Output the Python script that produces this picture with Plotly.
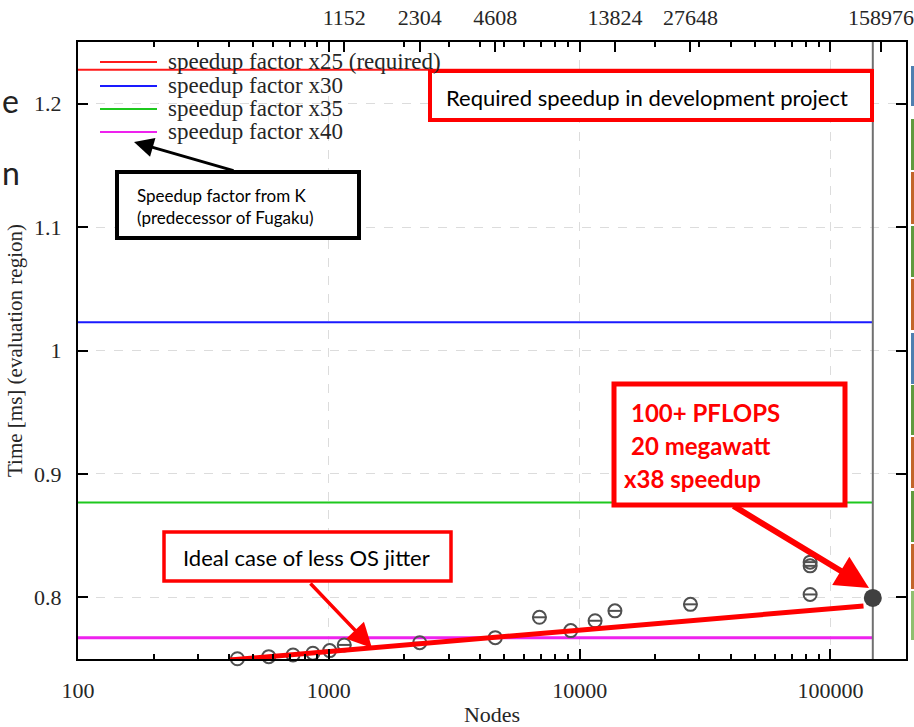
import math
import plotly.graph_objects as go

# ---------------- data ----------------
nodes = [432, 576, 720, 864, 1008, 1152, 2304, 4608, 6912, 9216, 11520, 13824, 27648, 82944, 82944, 82944]
times = [0.7502, 0.7519, 0.7533, 0.7547, 0.7568, 0.7614, 0.7632, 0.7673, 0.7838, 0.7730, 0.7810, 0.7890,
         0.7943, 0.8023, 0.8255, 0.8285]
full_nodes = [147456]
full_times = [0.7995]

speedup_labels = ["speedup factor x25 (required)", "speedup factor x30", "speedup factor x35", "speedup factor x40"]
speedup_times = [1.2275, 1.0229, 0.8768, 0.7672]
speedup_colors = ["#ff1a1a", "#1a1aff", "#1ec81e", "#ee22ee"]
speedup_widths = [2, 2, 2, 3]
speedup_x = [100, 147456]

ideal_nodes = [403, 135400]
ideal_times = [0.7492, 0.7930]

bottom_ticks = [100, 1000, 10000, 100000]
bottom_labels = ["100", "1000", "10000", "100000"]
minor_ticks = [m * 10 ** e for e in range(2, 6) for m in range(2, 10)]
top_ticks = [1152, 2304, 4608, 13824, 27648, 158976]
top_labels = ["1152", "2304", "4608", "13824", "27648", "158976"]
y_ticks = [0.8, 0.9, 1.0, 1.1, 1.2]
y_labels = ["0.8", "0.9", "1", "1.1", "1.2"]
x_range = [100, 200000]
y_range = [0.75, 1.25]

# ---------------- layout helpers (pixel -> paper) ----------------
L, R, T, B = 78, 906, 42, 659
W, H = 914, 727


def PX(x):
    return (x - L) / (R - L)


def PY(y):
    return (B - y) / (B - T)


SERIF = "Liberation Serif"
SANS = "Lato"
TXT = "#262626"

fig = go.Figure()

for lab, t, c, w in zip(speedup_labels, speedup_times, speedup_colors, speedup_widths):
    fig.add_trace(go.Scatter(x=speedup_x, y=[t, t], mode="lines", line=dict(color=c, width=w),
                             name=lab, showlegend=False, hoverinfo="skip"))

# gray vertical line at full-system run
fig.add_trace(go.Scatter(x=[full_nodes[0], full_nodes[0]], y=y_range, mode="lines",
                         line=dict(color="#707070", width=2), showlegend=False, hoverinfo="skip"))

# measured points
fig.add_trace(go.Scatter(x=nodes, y=times, mode="markers", cliponaxis=False, showlegend=False,
                         marker=dict(symbol="circle-open", size=13, line=dict(color="#505050", width=2),
                                     color="#505050")))
fig.add_trace(go.Scatter(x=nodes, y=times, mode="markers", cliponaxis=False, showlegend=False,
                         marker=dict(symbol="line-ew", size=10, line=dict(color="#505050", width=2))))
fig.add_trace(go.Scatter(x=full_nodes, y=full_times, mode="markers", cliponaxis=False, showlegend=False,
                         marker=dict(symbol="circle", size=18, color="#404040", line=dict(width=0))))

# ideal line (overlay)
fig.add_trace(go.Scatter(x=ideal_nodes, y=ideal_times, mode="lines", line=dict(color="#ff0000", width=5),
                         showlegend=False, hoverinfo="skip"))

# invisible trace on top axis
fig.add_trace(go.Scatter(x=[1000], y=[1.0], xaxis="x2", mode="markers", marker=dict(opacity=0),
                         showlegend=False, hoverinfo="skip"))

shapes = []
annotations = []

# manual legend
leg_y = [62, 86, 109, 132]
for lab, c, yy in zip(speedup_labels, speedup_colors, leg_y):
    shapes.append(dict(type="line", xref="paper", yref="paper", x0=PX(100), x1=PX(157), y0=PY(yy), y1=PY(yy),
                       line=dict(color=c, width=2), layer="above"))
    annotations.append(dict(text=lab, xref="paper", yref="paper", x=PX(166), y=PY(yy - 1), xanchor="left",
                            yanchor="middle", showarrow=False, font=dict(family=SERIF, size=23, color=TXT)))

# boxes
boxes = [
    (430, 71, 872, 120, "#ff0000", 4),
    (117, 172, 359, 238, "#000000", 4),
    (614, 384, 845, 505, "#ff0000", 5),
    (164, 532, 451, 581, "#ff0000", 3.5),
]
for x0, y0, x1, y1, c, w in boxes:
    shapes.append(dict(type="rect", xref="paper", yref="paper", x0=PX(x0), x1=PX(x1), y0=PY(y0), y1=PY(y1),
                       line=dict(color=c, width=w), fillcolor="white", layer="above"))

# right-hand coloured strip (slide decoration)
strip = [
    (66, 106, "#4f7fb0"), (119, 170, "#5f9a3e"), (172, 224, "#c2652a"), (226, 277, "#5f9a3e"),
    (279, 330, "#c2652a"), (333, 384, "#4f7fb0"), (385, 435, "#5f9a3e"), (437, 488, "#c2652a"),
    (491, 542, "#5f9a3e"), (544, 589, "#c2652a"), (591, 640, "#8fbf6f"),
]
for y0, y1, c in strip:
    shapes.append(dict(type="rect", xref="paper", yref="paper", x0=PX(911), x1=PX(916), y0=PY(y0), y1=PY(y1),
                       line=dict(width=0), fillcolor=c, layer="above"))

# texts
annotations.append(dict(text="Required speedup in development project", xref="paper", yref="paper",
                        x=PX(647), y=PY(97), xanchor="center", yanchor="middle", showarrow=False,
                        font=dict(family=SANS, size=22, color="black")))
for txt, yy in [("Speedup factor from K", 195), ("(predecessor of Fugaku)", 217)]:
    annotations.append(dict(text=txt, xref="paper", yref="paper", x=PX(135), y=PY(yy), xanchor="left",
                            yanchor="middle", showarrow=False, font=dict(family=SANS, size=17, color="black")))
for txt, xx, yy in [("100+ PFLOPS", 629, 412), ("20 megawatt", 629, 445), ("x38 speedup", 622, 478)]:
    annotations.append(dict(text="<b>" + txt + "</b>", xref="paper", yref="paper", x=PX(xx), y=PY(yy),
                            xanchor="left", yanchor="middle", showarrow=False,
                            font=dict(family=SANS, size=24, color="#ff0000")))
annotations.append(dict(text="Ideal case of less OS jitter", xref="paper", yref="paper",
                        x=PX(306), y=PY(557), xanchor="center", yanchor="middle", showarrow=False,
                        font=dict(family=SANS, size=22, color="black")))

# cut-off slide text at left edge
for txt, yy in [("e", 101), ("n", 173)]:
    annotations.append(dict(text=txt, xref="paper", yref="paper", x=PX(0), y=PY(yy), xanchor="left",
                            yanchor="middle", showarrow=False, font=dict(family=SANS, size=32, color="#222")))

# arrows (head at x,y; tail offset in pixels)
arrows = [
    ((134, 142), (235, 171), "#000000", 3, 1.3),
    ((869, 588), (732, 505), "#ff0000", 6, 1.1),
    ((372, 648), (309, 582), "#ff0000", 3.5, 1.4),
]
for (hx, hy), (tx, ty), c, w, s in arrows:
    annotations.append(dict(text="", xref="paper", yref="paper", x=PX(hx), y=PY(hy), showarrow=True,
                            ax=tx - hx, ay=ty - hy, axref="pixel", ayref="pixel", arrowhead=2,
                            arrowsize=s, arrowwidth=w, arrowcolor=c, standoff=0, startstandoff=0))

tickfont = dict(family=SERIF, size=22, color=TXT)
xr = [math.log10(x_range[0]), math.log10(x_range[1])]

fig.update_layout(
    width=W, height=H,
    margin=dict(l=L, r=W - R, t=T, b=H - B, autoexpand=False),
    paper_bgcolor="white", plot_bgcolor="white",
    showlegend=False,
    shapes=shapes, annotations=annotations,
    xaxis=dict(type="log", range=xr, automargin=False,
               tickmode="array", tickvals=bottom_ticks, ticktext=bottom_labels,
               ticks="inside", ticklen=10, tickwidth=1.5, tickcolor="black",
               showline=True, linecolor="black", linewidth=2, mirror="ticks",
               showgrid=True, gridcolor="#dcdcdc", griddash="dash", gridwidth=1,
               minor=dict(tickmode="array", tickvals=minor_ticks, ticks="inside", ticklen=5,
                          tickwidth=1.5, tickcolor="black", showgrid=False),
               tickfont=tickfont, ticklabelstandoff=11, zeroline=False,
               title=dict(text="Nodes", font=dict(family=SERIF, size=22, color=TXT), standoff=10)),
    xaxis2=dict(type="log", overlaying="x", side="top", range=xr, automargin=False,
                tickmode="array", tickvals=top_ticks, ticktext=top_labels,
                ticks="inside", ticklen=10, tickwidth=1.5, tickcolor="black",
                showgrid=False, showline=False, zeroline=False,
                tickfont=tickfont, ticklabelstandoff=12),
    yaxis=dict(range=y_range, automargin=False, tickmode="array", tickvals=y_ticks, ticktext=y_labels,
               ticks="inside", ticklen=10, tickwidth=1.5, tickcolor="black",
               showline=True, linecolor="black", linewidth=2, mirror="ticks",
               showgrid=True, gridcolor="#dcdcdc", griddash="dash", gridwidth=1, zeroline=False,
               tickfont=tickfont, ticklabelstandoff=10,
               title=dict(text="Time [ms] (evaluation region)", font=dict(family=SERIF, size=21, color=TXT),
                          standoff=6)),
)

fig.write_html("out.html", config={"displayModeBar": False},
               post_script="document.body.style.margin='0px';")
